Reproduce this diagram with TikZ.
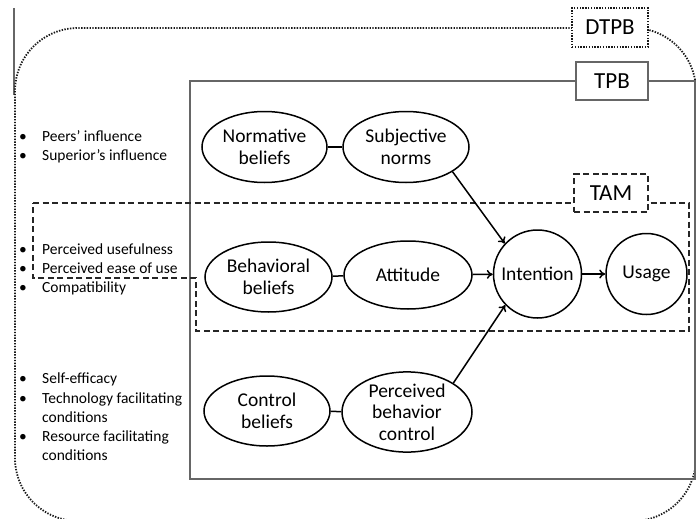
\documentclass[tikz,border=0pt]{standalone}
\usepackage{fontspec}
\setmainfont{Carlito}
\usetikzlibrary{shapes.geometric,arrows.meta}
\begin{document}
\begin{tikzpicture}[x=1pt,y=-1pt,
  oval/.style={ellipse,draw,line width=1.5pt,fill=white,align=center,inner sep=0pt,
    font=\fontsize{19.5}{21.5}\selectfont},
  roundnode/.style={circle,draw,line width=1.5pt,fill=white,inner sep=0pt,
    font=\fontsize{19.5}{21.5}\selectfont},
  tag/.style={draw,fill=white,inner sep=0pt,font=\fontsize{23}{25}\selectfont},
  dotline/.style={draw=black!90,line width=1.8pt,dash pattern=on 1.4pt off 1.4pt},
  dashline/.style={draw=black!85,line width=1.6pt,dash pattern=on 6pt off 3.5pt},
  boxline/.style={draw=black!60,line width=1.3pt},
  item/.style={anchor=base west,inner sep=0pt,font=\fontsize{15.5}{19}\selectfont},
  link/.style={line width=1.5pt},
  flow/.style={line width=1.5pt,-{To[length=6pt,width=9pt]}},
]
\useasboundingbox (0,0) rectangle (696,519);

% edge rule at the top left
\draw[black!60,line width=1.2pt] (14,8) -- (14,95);

% DTPB frame
\draw[dotline,rounded corners=63pt] (15,28) rectangle (696,521);

% TPB frame
\draw[boxline] (190,81) rectangle (695,479);

% TAM frame
\draw[dashline] (33,203) -- (689,203) -- (689,331) -- (196,331) -- (196,278) -- (33,278) -- cycle;

% frame labels
\node[tag,dotline,minimum width=76pt,minimum height=39pt] (dtpb) at (610,27.5) {DTPB};
\node[tag,boxline,minimum width=72pt,minimum height=38pt] (tpb) at (612,81) {TPB};
\node[tag,dashline,minimum width=74pt,minimum height=38pt] (tam) at (611,193) {TAM};

% constructs
\node[oval,minimum width=125pt,minimum height=71pt] (norm) at (264.5,147) {Normative\\beliefs};
\node[oval,minimum width=126pt,minimum height=71pt] (subj) at (406,147) {Subjective\\norms};
\node[oval,minimum width=127pt,minimum height=70pt] (behav) at (268.5,277) {Behavioral\\beliefs};
\node[oval,minimum width=128pt,minimum height=68pt] (att) at (408,275) {Attitude};
\node[roundnode,minimum size=88pt] (int) at (537.5,274) {Intention};
\node[roundnode,minimum size=81pt] (use) at (646.5,274) {Usage};
\node[oval,minimum width=126pt,minimum height=70pt] (ctrl) at (267,411) {Control\\beliefs};
\node[oval,minimum width=130pt,minimum height=78pt] (pbc) at (407,412) {Perceived\\behavior\\control};

% links and paths
\draw[link] (norm) -- (subj);
\draw[link] (behav) -- (att);
\draw[link] (ctrl) -- (pbc);
\draw[flow] (subj.-28) -- (int.137);
\draw[flow] (att) -- (int);
\draw[flow] (pbc.32) -- (int.-136);
\draw[flow] (int) -- (use);

% determinants
\foreach \y/\t in {141/Peers’ influence, 160/Superior’s influence,
    254/Perceived usefulness, 273/Perceived ease of use, 292/Compatibility,
    383/Self-efficacy, 403/Technology facilitating, 441/Resource facilitating}
  \node[item] (i\y) at (42,\y) {\t};
\foreach \y in {141,160,254,273,292,383,403,441}
  \node[item] (b\y) at (19,\y) {•};
\node[item] (c422) at (42,422) {conditions};
\node[item] (c460) at (42,460) {conditions};
\end{tikzpicture}
\end{document}
